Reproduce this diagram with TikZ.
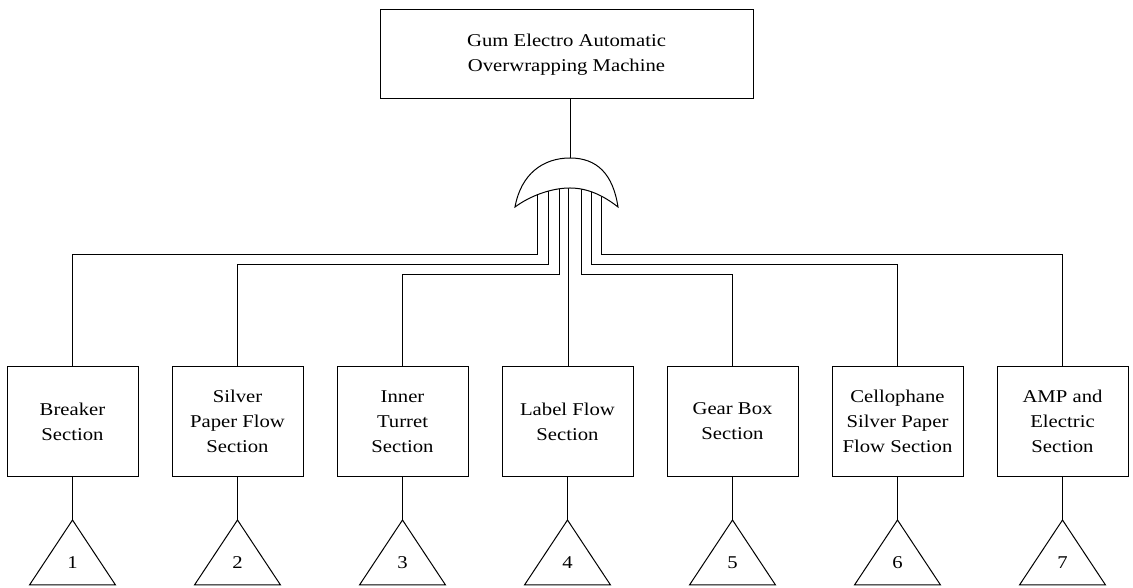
\documentclass[tikz,border=0pt]{standalone}
\usepackage{fontspec}
\setmainfont{Liberation Serif}[FakeStretch=1.15]
\usepackage{tikz}
\usetikzlibrary{positioning, calc}

\begin{document}
\begin{tikzpicture}[
    x=1pt, y=1pt, line width=1pt,
    topbox/.style={rectangle, draw, minimum width=373pt, minimum height=89pt, align=center, inner sep=0pt, font=\fontsize{18}{25}\selectfont},
    section/.style={rectangle, draw, minimum width=131pt, minimum height=110pt, align=center, inner sep=0pt, font=\fontsize{18}{25}\selectfont},
    num/.style={font=\fontsize{18}{22}\selectfont}
]
\useasboundingbox (0,0) rectangle (1133,588);

% Top event
\node[topbox] (top) at (566.5,533.5) {Gum Electro Automatic\\Overwrapping Machine};

% Sections
\node[section] (b1) at (72.5,166.5) {Breaker\\Section};
\node[section] (b2) at (237.5,166.5) {Silver\\Paper Flow\\Section};
\node[section] (b3) at (402.5,166.5) {Inner\\Turret\\Section};
\node[section] (b4) at (567.5,166.5) {Label Flow\\Section};
\node[section] (b5) at (732.5,166.5) {Gear Box\\Section};
\node[section] (b6) at (897.5,166.5) {Cellophane\\Silver Paper\\Flow Section};
\node[section] (b7) at (1062.5,166.5) {AMP and\\Electric\\Section};

% Gate inputs
\coordinate (g1) at (537,402);
\coordinate (g2) at (548,402);
\coordinate (g3) at (559,402);
\coordinate (g4) at (568,402);
\coordinate (g5) at (581,402);
\coordinate (g6) at (591,402);
\coordinate (g7) at (601,402);
\coordinate (lvl1) at (0,333);
\coordinate (lvl2) at (0,323);
\coordinate (lvl3) at (0,313);

\draw (g1) |- (lvl1 -| b1.north) -- (b1.north);
\draw (g2) |- (lvl2 -| b2.north) -- (b2.north);
\draw (g3) |- (lvl3 -| b3.north) -- (b3.north);
\draw (g4) -- (g4 |- b4.north);
\draw (g5) |- (lvl3 -| b5.north) -- (b5.north);
\draw (g6) |- (lvl2 -| b6.north) -- (b6.north);
\draw (g7) |- (lvl1 -| b7.north) -- (b7.north);

% OR gate
\coordinate (gtop) at (570,430);
\draw[fill=white] (515,381) .. controls (521,414) and (543,430) .. (gtop)
    .. controls (597,430) and (613,414) .. (618,381)
    .. controls (604,392) and (588,400) .. (570,400)
    .. controls (551,400) and (530,392) .. (515,381) -- cycle;
\draw (gtop) -- (gtop |- top.south);

% Transfer triangles
\coordinate (t1) at (72.5,68);
\coordinate (t2) at (237.5,68);
\coordinate (t3) at (402.5,68);
\coordinate (t4) at (567.5,68);
\coordinate (t5) at (732.5,68);
\coordinate (t6) at (897.5,68);
\coordinate (t7) at (1062.5,68);
\draw (t1) -- ++(-43,-65) -- ++(86,0) -- cycle;
\draw (t2) -- ++(-43,-65) -- ++(86,0) -- cycle;
\draw (t3) -- ++(-43,-65) -- ++(86,0) -- cycle;
\draw (t4) -- ++(-43,-65) -- ++(86,0) -- cycle;
\draw (t5) -- ++(-43,-65) -- ++(86,0) -- cycle;
\draw (t6) -- ++(-43,-65) -- ++(86,0) -- cycle;
\draw (t7) -- ++(-43,-65) -- ++(86,0) -- cycle;
\node[num] (n1) at (72.5,25) {1};
\node[num] (n2) at (237.5,25) {2};
\node[num] (n3) at (402.5,25) {3};
\node[num] (n4) at (567.5,25) {4};
\node[num] (n5) at (732.5,25) {5};
\node[num] (n6) at (897.5,25) {6};
\node[num] (n7) at (1062.5,25) {7};

\draw (b1.south) -- (t1);
\draw (b2.south) -- (t2);
\draw (b3.south) -- (t3);
\draw (b4.south) -- (t4);
\draw (b5.south) -- (t5);
\draw (b6.south) -- (t6);
\draw (b7.south) -- (t7);

\end{tikzpicture}
\end{document}
